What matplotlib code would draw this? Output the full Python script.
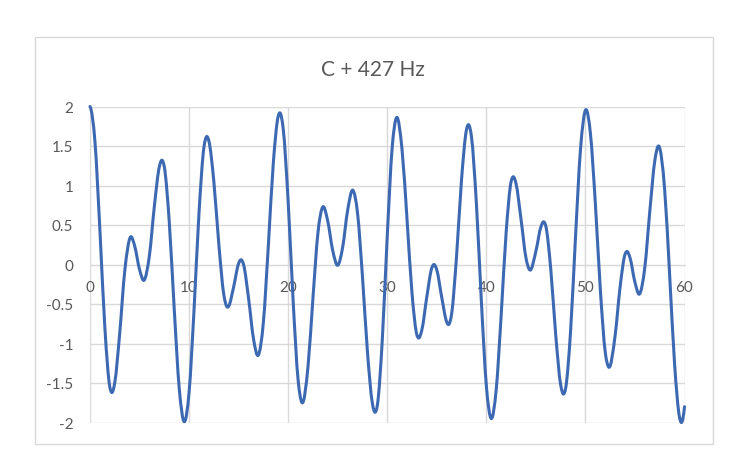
import matplotlib
matplotlib.use("Agg")
import matplotlib.pyplot as plt
from matplotlib.path import Path
from matplotlib.patches import PathPatch, Rectangle

plt.rcParams["font.family"] = ["Lato", "DejaVu Sans"]

# Values (x position, amplitude)
t_vals = [
    0, 0.5, 1.0, 1.5, 2.0, 2.19, 2.5, 3.0, 3.5, 4.1, 4.5, 5.0, 5.45, 6.0, 6.5,
    7.0, 7.27, 7.5, 8.0, 8.5, 9.0, 9.53, 10.0, 10.5, 11.0, 11.5, 11.78, 12.0,
    12.5, 13.0, 13.5, 13.87, 14.0, 14.5, 15.0, 15.25, 15.5, 16.0, 16.5, 16.97,
    17.5, 18.0, 18.5, 19.0, 19.16, 19.5, 20.0, 20.5, 21.0, 21.41, 22.0, 22.5,
    23.0, 23.5, 24.0, 24.5, 25.0, 25.5, 26.0, 26.53, 27.0, 27.5, 28.0, 28.5,
    28.79, 29.0, 29.5, 30.0, 30.5, 30.94, 31.5, 32.0, 32.5, 33.0, 33.16, 33.5,
    34.0, 34.5, 34.71, 35.0, 35.5, 36.0, 36.2, 36.5, 37.0, 37.5, 38.0, 38.2,
    38.5, 39.0, 39.5, 40.0, 40.5, 41.0, 41.5, 42.0, 42.5, 42.7, 43.0, 43.5,
    44.0, 44.4, 45.0, 45.5, 45.8, 46.0, 46.5, 47.0, 47.5, 47.8, 48.0, 48.5,
    49.0, 49.5, 50.05, 50.5, 51.0, 51.5, 52.0, 52.36, 53.0, 53.5, 54.0, 54.18,
    54.5, 55.0, 55.45, 56.0, 56.5, 57.0, 57.4, 58.0, 58.5, 59.0, 59.5, 59.7, 60.0,
]
amp_vals = [
    2.00, 1.555, 0.435, -0.80, -1.55, -1.62, -1.495, -0.867, -0.092, 0.35, 0.239,
    -0.063, -0.20, 0.118, 0.742, 1.239, 1.32, 1.236, 0.537, -0.563, -1.558,
    -1.99, -1.615, -0.573, 0.651, 1.485, 1.62, 1.562, 1.047, 0.259, -0.377,
    -0.54, -0.527, -0.281, 0.013, 0.06, -0.002, -0.425, -0.940, -1.15, -0.728,
    0.241, 1.283, 1.880, 1.92, 1.716, 0.795, -0.458, -1.458, -1.75, -1.294,
    -0.426, 0.395, 0.73, 0.545, 0.175, -0.01, 0.219, 0.685, 0.94, 0.651,
    -0.155, -1.103, -1.758, -1.87, -1.782, -0.952, 0.361, 1.485, 1.86, 1.444,
    0.564, -0.366, -0.895, -0.93, -0.824, -0.404, -0.041, 0.00, -0.069, -0.416,
    -0.727, -0.76, -0.622, 0.114, 1.079, 1.708, 1.77, 1.616, 0.765, -0.469,
    -1.533, -1.95, -1.577, -0.637, 0.406, 1.049, 1.11, 1.022, 0.574, 0.084,
    -0.07, 0.167, 0.473, 0.54, 0.487, -0.055, -0.887, -1.521, -1.64, -1.570,
    -0.848, 0.349, 1.452, 1.96, 1.664, 0.778, -0.307, -1.108, -1.30, -0.896,
    -0.285, 0.130, 0.165, 0.085, -0.225, -0.375, -0.031, 0.676, 1.311, 1.50,
    0.944, -0.131, -1.260, -1.935, -2.00, -1.80,
]

x_ticks = [0, 10, 20, 30, 40, 50, 60]
y_ticks = [-2, -1.5, -1, -0.5, 0, 0.5, 1, 1.5, 2]
y_tick_labels = ["-2", "-1.5", "-1", "-0.5", "0", "0.5", "1", "1.5", "2"]

title = "C + 427 Hz"
line_color = "#3D69B2"
grid_color = "#D9D9D9"
text_color = "#595959"

W, H = 753, 477
fig = plt.figure(figsize=(W / 100, H / 100), dpi=100)
ax = fig.add_axes([90 / W, 1 - 423.5 / H, 594.5 / W, 316 / H])

# outer chart border
fig.add_artist(Rectangle((35 / W, 1 - 445 / H), 678 / W, 407 / H,
                         transform=fig.transFigure, fill=False,
                         edgecolor=grid_color, lw=1.0))

# smoothed line like excel: cubic bezier segments through the data points,
# tangents taken from the parabola through each point and its neighbours
n = len(t_vals)
h = [t_vals[i + 1] - t_vals[i] for i in range(n - 1)]
d = [(amp_vals[i + 1] - amp_vals[i]) / h[i] for i in range(n - 1)]
slopes = [((2 * h[0] + h[1]) * d[0] - h[0] * d[1]) / (h[0] + h[1])]
for i in range(1, n - 1):
    slopes.append((h[i - 1] * d[i] + h[i] * d[i - 1]) / (h[i - 1] + h[i]))
slopes.append(((2 * h[-1] + h[-2]) * d[-1] - h[-1] * d[-2]) / (h[-1] + h[-2]))

verts = [(t_vals[0], amp_vals[0])]
codes = [Path.MOVETO]
for i in range(n - 1):
    dx = h[i] / 3
    verts += [
        (t_vals[i] + dx, amp_vals[i] + slopes[i] * dx),
        (t_vals[i + 1] - dx, amp_vals[i + 1] - slopes[i + 1] * dx),
        (t_vals[i + 1], amp_vals[i + 1]),
    ]
    codes += [Path.CURVE4] * 3

ax.add_patch(PathPatch(Path(verts, codes), fill=False, edgecolor=line_color,
                       lw=2.2, capstyle="round", joinstyle="round",
                       clip_on=False, zorder=3))

ax.set_xlim(0, 60)
ax.set_ylim(-2, 2)
ax.set_xticks(x_ticks)
ax.set_yticks(y_ticks)
ax.set_yticklabels(y_tick_labels)
ax.grid(True, color=grid_color, lw=1.0)
ax.set_axisbelow(True)

for side in ["top", "right", "left"]:
    ax.spines[side].set_visible(False)
ax.spines["bottom"].set_position(("data", 0))
ax.spines["bottom"].set_color(grid_color)

ax.tick_params(axis="both", length=0, labelsize=11, labelcolor=text_color)
ax.tick_params(axis="x", pad=11)
ax.tick_params(axis="y", pad=12)

fig.text(372.5 / W, 1 - 70 / H, title, ha="center", va="center",
         fontsize=15, color=text_color)

fig.savefig("out.png", dpi=100)
